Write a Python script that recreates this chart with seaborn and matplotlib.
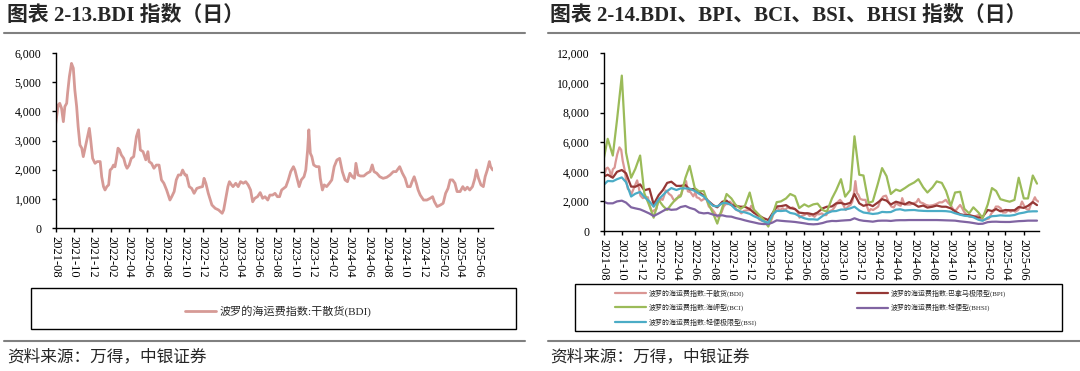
import pandas as pd
import matplotlib.pyplot as plt
import matplotlib.dates as mdates
from matplotlib.lines import Line2D
from matplotlib.patches import Rectangle
from matplotlib.ticker import FuncFormatter, MultipleLocator
import seaborn as sns

# BDI daily index
bdi_dates = [
    "2021-08-01", "2021-08-10", "2021-08-15", "2021-08-21", "2021-08-27", "2021-09-01", "2021-09-07",
    "2021-09-10", "2021-09-16", "2021-09-23", "2021-09-29", "2021-10-04", "2021-10-10", "2021-10-15",
    "2021-10-21", "2021-10-27", "2021-11-01", "2021-11-07", "2021-11-12", "2021-11-21", "2021-11-25",
    "2021-12-02", "2021-12-10", "2021-12-17", "2021-12-27", "2022-01-01", "2022-01-07", "2022-01-12",
    "2022-01-18", "2022-01-24", "2022-01-29", "2022-02-04", "2022-02-09", "2022-02-14", "2022-02-19",
    "2022-02-24", "2022-03-01", "2022-03-07", "2022-03-15", "2022-03-21", "2022-03-26", "2022-04-02",
    "2022-04-09", "2022-04-17", "2022-04-26", "2022-05-03", "2022-05-09", "2022-05-18", "2022-05-27",
    "2022-06-03", "2022-06-07", "2022-06-15", "2022-06-23", "2022-07-01", "2022-07-10", "2022-07-18",
    "2022-07-26", "2022-08-04", "2022-08-15", "2022-08-21", "2022-08-29", "2022-09-05", "2022-09-12",
    "2022-09-20", "2022-09-26", "2022-10-04", "2022-10-09", "2022-10-18", "2022-10-26", "2022-11-03",
    "2022-11-12", "2022-11-23", "2022-12-01", "2022-12-06", "2022-12-12", "2022-12-20", "2023-01-01",
    "2023-01-12", "2023-01-23", "2023-02-04", "2023-02-09", "2023-02-17", "2023-02-23", "2023-02-28",
    "2023-03-07", "2023-03-12", "2023-03-21", "2023-03-29", "2023-04-06", "2023-04-15", "2023-04-23",
    "2023-05-01", "2023-05-09", "2023-05-16", "2023-05-23", "2023-06-01", "2023-06-10", "2023-06-18",
    "2023-06-26", "2023-07-05", "2023-07-12", "2023-07-21", "2023-07-29", "2023-08-06", "2023-08-13",
    "2023-08-20", "2023-09-03", "2023-09-11", "2023-09-19", "2023-09-28", "2023-10-03", "2023-10-10",
    "2023-10-17", "2023-10-24", "2023-11-02", "2023-11-08", "2023-11-14", "2023-11-18", "2023-11-23",
    "2023-11-28", "2023-12-04", "2023-12-13", "2023-12-22", "2023-12-26", "2024-01-02", "2024-01-08",
    "2024-01-16", "2024-01-25", "2024-02-02", "2024-02-10", "2024-02-19", "2024-02-28", "2024-03-08",
    "2024-03-17", "2024-03-25", "2024-04-02", "2024-04-10", "2024-04-17", "2024-04-22", "2024-04-29",
    "2024-05-07", "2024-05-18", "2024-05-29", "2024-06-08", "2024-06-15", "2024-06-21", "2024-06-30",
    "2024-07-10", "2024-07-21", "2024-08-02", "2024-08-13", "2024-08-24", "2024-09-02", "2024-09-14",
    "2024-09-23", "2024-10-02", "2024-10-10", "2024-10-19", "2024-10-25", "2024-11-01", "2024-11-08",
    "2024-11-14", "2024-11-21", "2024-12-02", "2024-12-13", "2024-12-24", "2025-01-01", "2025-01-07",
    "2025-01-16", "2025-01-27", "2025-02-05", "2025-02-13", "2025-02-21", "2025-02-28", "2025-03-08",
    "2025-03-16", "2025-03-23", "2025-04-02", "2025-04-11", "2025-04-18", "2025-04-26", "2025-05-04",
    "2025-05-13", "2025-05-21", "2025-05-26", "2025-06-02", "2025-06-10", "2025-06-18", "2025-06-24",
    "2025-07-01", "2025-07-08", "2025-07-12", "2025-07-19",
]
bdi_values = [
    3540, 4225, 4280, 4110, 3650, 4170, 4280, 4625, 5200, 5650, 5485, 4740, 4170, 3480, 2850, 2740,
    2450, 2740, 2965, 3420, 3080, 2390, 2220, 2280, 2280, 1760, 1420, 1305, 1420, 1480, 1990, 2050,
    2160, 2100, 2390, 2740, 2680, 2510, 2390, 2160, 2050, 2160, 2390, 2450, 3140, 3370, 2680, 2620,
    2340, 2620, 2280, 2220, 2050, 2160, 2160, 1650, 1535, 1305, 960, 1075, 1250, 1650, 1820, 1820,
    1990, 1820, 1820, 1420, 1360, 1190, 1360, 1400, 1420, 1705, 1535, 1190, 790, 675, 620, 505,
    620, 1075, 1420, 1590, 1480, 1420, 1535, 1420, 1590, 1535, 1590, 1480, 1305, 900, 1020, 1075,
    1215, 1020, 1075, 960, 1130, 1130, 1190, 1075, 1075, 1305, 1420, 1650, 1935, 2105, 1990, 1705,
    1420, 1650, 1760, 1990, 2680, 3370, 2565, 2450, 2165, 2105, 2105, 1705, 1305, 1480, 1420, 1535,
    1650, 2105, 2335, 2390, 1935, 1650, 1590, 1880, 1760, 1705, 2220, 1820, 1785, 1785, 1880, 1935,
    2165, 1935, 1880, 1760, 1705, 1740, 1820, 1935, 1935, 2105, 1880, 1705, 1420, 1420, 1590, 1760,
    1535, 1305, 1130, 960, 960, 1020, 1075, 900, 735, 790, 850, 1190, 1360, 1650, 1650, 1535,
    1250, 1250, 1420, 1305, 1400, 1305, 1420, 1705, 1990, 1705, 1480, 1420, 1760, 1990, 2280, 2105,
    1990,
]

# Other indices, read at the 1st and 15th of each month
grid_start = "2021-08-01"
grid_count = 96
bpi_values = [
    3670, 3800, 3600, 4000, 4120, 3900, 3000, 2990, 3150, 2750, 2850, 1800, 2430, 2770, 3250, 3330,
    3050, 3050, 3100, 2800, 2850, 2640, 2380, 2050, 1750, 1600, 1980, 2050, 1750, 1700, 1640, 1640,
    1480, 1230, 1040, 880, 740, 1200, 1660, 1680, 1750, 1560, 1480, 1240, 1200, 1190, 1120, 1250,
    1530, 1640, 1660, 1870, 1900, 1800, 1900, 2500, 1870, 1700, 1800, 1680, 1930, 2150, 2050, 1790,
    1980, 1900, 1800, 1950, 1810, 1640, 1720, 1580, 1640, 1720, 1640, 1640, 1530, 1330, 1130, 1080,
    1080, 1000, 900, 960, 1420, 1350, 1480, 1330, 1420, 1400, 1400, 1620, 1560, 1700, 1950, 1750,
]
bci_values = [
    4800, 6230, 5100, 7500, 10500, 5300, 3600, 4200, 5100, 2550, 1700, 900, 2090, 1700, 1420, 1800,
    2200, 2340, 3600, 4400, 2900, 2680, 2700, 1900, 1190, 500, 1600, 2500, 2200, 1770, 1500, 1700,
    2600, 1450, 1100, 800, 300, 1100, 1950, 2000, 2200, 2500, 2350, 1550, 1800, 1650, 1800, 1850,
    1420, 1300, 2200, 2750, 3500, 2320, 2770, 6400, 3800, 3750, 1900, 2000, 3200, 4250, 3700, 2500,
    2800, 2700, 2900, 3100, 3280, 3500, 2950, 2600, 2950, 3350, 3250, 2700, 1700, 2600, 2650, 1500,
    1190, 1600, 1250, 870, 1800, 2900, 2700, 2150, 2050, 1980, 2100, 3600, 2200, 2200, 3750, 3200,
]
bhsi_values = [
    1980, 1870, 1870, 2000, 2050, 1920, 1600, 1530, 1460, 1340, 1180, 1010, 1190, 1350, 1500, 1430,
    1460, 1620, 1690, 1560, 1460, 1250, 1190, 1220, 1110, 1040, 1060, 990, 970, 880, 800, 720,
    640, 580, 500, 470, 470, 570, 720, 690, 660, 640, 610, 570, 520, 470, 450, 470,
    540, 630, 680, 670, 700, 720, 740, 860, 740, 690, 660, 630, 690, 700, 700, 680,
    720, 730, 730, 740, 740, 740, 740, 740, 740, 740, 730, 720, 710, 700, 650, 620,
    585, 540, 480, 490, 600, 625, 630, 615, 610, 610, 640, 665, 680, 700, 700, 700,
]
bsi_values = [
    3100, 3380, 3360, 3500, 3620, 3300, 2330, 2520, 2640, 2300, 2000, 1640, 2150, 2430, 2700, 2900,
    2770, 2880, 2880, 2860, 2700, 2520, 2330, 2030, 1700, 1660, 1880, 1890, 1750, 1460, 1310, 1260,
    1160, 1000, 850, 660, 560, 1100, 1360, 1350, 1380, 1220, 1160, 1000, 860, 790, 790, 760,
    1020, 1200, 1330, 1350, 1450, 1450, 1530, 1640, 1390, 1250, 1200, 1150, 1190, 1290, 1270, 1280,
    1440, 1470, 1390, 1410, 1420, 1380, 1360, 1350, 1350, 1350, 1350, 1340, 1300, 1200, 1100, 1030,
    1000, 930, 760, 690, 900, 1000, 1020, 1060, 1035, 1035, 1080, 1180, 1240, 1310, 1330, 1330,
]

label_bdi = "波罗的海运费指数:干散货(BDI)"
label_bpi = "波罗的海运费指数:巴拿马极限型(BPI)"
label_bci = "波罗的海运费指数:海岬型(BCI)"
label_bhsi = "波罗的海运费指数:轻便型(BHSI)"
label_bsi = "波罗的海运费指数:轻便极限型(BSI)"

W, H = 1080, 371

sns.set_style("white")
plt.rcParams["font.family"] = ["Liberation Serif", "Noto Sans CJK SC"]

fig = plt.figure(figsize=(W / 100, H / 100), dpi=100)

def fx(px):
    return px / W

def fy(py):
    return 1 - py / H

def style_axis(ax, ymax, ystep):
    ax.set_ylim(0, ymax)
    ax.yaxis.set_major_locator(MultipleLocator(ystep))
    ax.yaxis.set_major_formatter(FuncFormatter(lambda v, p: f"{v:,.0f}"))
    ax.set_xlim(pd.Timestamp("2021-08-01"), pd.Timestamp("2025-07-20"))
    ax.xaxis.set_major_locator(mdates.MonthLocator(bymonth=(2, 4, 6, 8, 10, 12)))
    ax.xaxis.set_major_formatter(mdates.DateFormatter("%Y-%m"))
    ax.tick_params(axis="x", rotation=-90, labelsize=9, length=3, width=1, pad=3,
                   direction="out", bottom=True, colors="black")
    ax.tick_params(axis="y", labelsize=8.5, length=3, width=1, pad=7,
                   direction="out", left=True, colors="black")
    for side in ["top", "right"]:
        ax.spines[side].set_visible(False)
    for side in ["left", "bottom"]:
        ax.spines[side].set_color("black")
        ax.spines[side].set_linewidth(1)
    ax.set_xlabel("")
    ax.set_ylabel("")
    ax.grid(False)

# ---- left chart: BDI ----
ax1 = fig.add_axes([fx(55.5), fy(228), fx(493) - fx(55.5), (228 - 53.2) / H])
sns.lineplot(x=pd.to_datetime(bdi_dates), y=bdi_values, ax=ax1, color="#D69A96",
             linewidth=2, label=label_bdi)
style_axis(ax1, 6000, 1000)
h1, l1 = ax1.get_legend_handles_labels()
ax1.get_legend().remove()

# ---- right chart: five indices ----
grid = pd.date_range(grid_start, periods=grid_count, freq="SMS")
ax2 = fig.add_axes([fx(603.5), fy(231), fx(1038.5) - fx(603.5), (231 - 53.4) / H])
sns.lineplot(x=pd.to_datetime(bdi_dates), y=bdi_values, ax=ax2, color="#DA9694", linewidth=1.6, label=label_bdi)
sns.lineplot(x=grid, y=bpi_values, ax=ax2, color="#953735", linewidth=1.6, label=label_bpi)
sns.lineplot(x=grid, y=bci_values, ax=ax2, color="#9BBB59", linewidth=1.6, label=label_bci)
sns.lineplot(x=grid, y=bhsi_values, ax=ax2, color="#8064A2", linewidth=1.6, label=label_bhsi)
sns.lineplot(x=grid, y=bsi_values, ax=ax2, color="#4BACC6", linewidth=1.6, label=label_bsi)
style_axis(ax2, 12000, 2000)
h2, l2 = ax2.get_legend_handles_labels()
ax2.get_legend().remove()
hmap = dict(zip(l2, h2))

# ---- titles, rules, sources ----
title_kw = dict(fontsize=15, fontweight="bold", va="center", ha="left")
fig.text(fx(7), fy(16), "图表 2-13.BDI 指数（日）", **title_kw)
fig.text(fx(550), fy(16), "图表 2-14.BDI、BPI、BCI、BSI、BHSI 指数（日）", **title_kw)

rule_kw = dict(transform=fig.transFigure, color="#808080", linewidth=1.5)
for y in (32.7, 340.7):
    fig.add_artist(Line2D([fx(4), fx(525)], [fy(y), fy(y)], **rule_kw))
    fig.add_artist(Line2D([fx(547.5), fx(1080)], [fy(y), fy(y)], **rule_kw))

src_kw = dict(fontsize=12, va="center", ha="left", family=["Noto Sans CJK SC"])
fig.text(fx(7.5), fy(356.7), "资料来源：万得，中银证券", **src_kw)
fig.text(fx(550), fy(356.7), "资料来源：万得，中银证券", **src_kw)

# ---- legend boxes ----
fig.add_artist(Rectangle((fx(31), fy(329)), fx(516) - fx(31), (329 - 288.3) / H,
                         transform=fig.transFigure, fill=False, edgecolor="black", linewidth=1))
fig.legend(h1, l1, loc="center left", bbox_to_anchor=(fx(185), fy(311)), bbox_transform=fig.transFigure,
           frameon=False, fontsize=8, handlelength=2.8, handletextpad=0.3, borderpad=0, borderaxespad=0)

fig.add_artist(Rectangle((fx(574.6), fy(330.7)), fx(1062) - fx(574.6), (330.7 - 284) / H,
                         transform=fig.transFigure, fill=False, edgecolor="black", linewidth=1))
leg_kw = dict(loc="center left", bbox_transform=fig.transFigure, frameon=False, fontsize=5,
              handlelength=4.5, handletextpad=0.4, borderpad=0, borderaxespad=0, labelspacing=1.0)
col1 = [label_bdi, label_bci, label_bsi]
col2 = [label_bpi, label_bhsi]
fig.legend([hmap[k] for k in col1], col1, bbox_to_anchor=(fx(615), fy(307.5)), **leg_kw)
fig.legend([hmap[k] for k in col2], col2, bbox_to_anchor=(fx(857), fy(300.2)), **leg_kw)

fig.savefig("out.png", dpi=100)
